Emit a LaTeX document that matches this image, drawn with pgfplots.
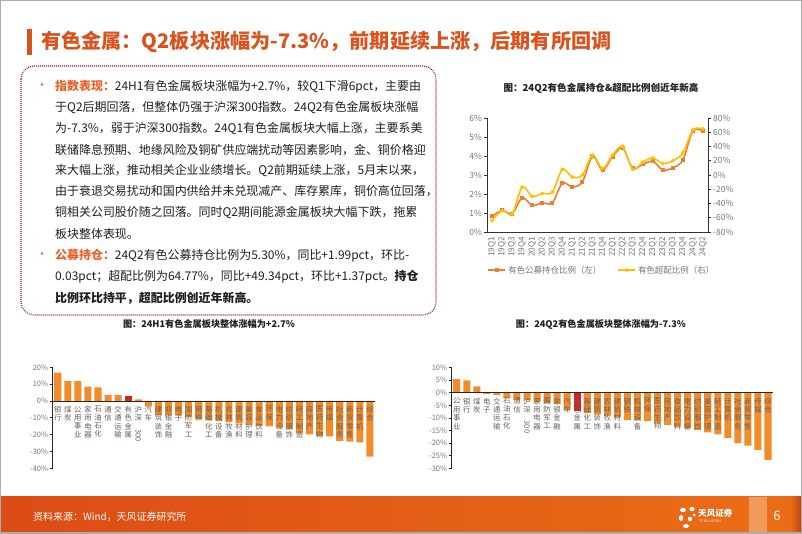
\documentclass[border=0pt]{standalone}
\usepackage{pgfplots}
\pgfplotsset{compat=1.18}
\usepackage{fontspec}
\setmainfont{Noto Sans CJK SC}
\usepackage{graphicx}
\definecolor{ttl}{RGB}{217,83,30}
\definecolor{hl}{RGB}{232,98,40}
\definecolor{barc}{RGB}{242,140,42}
\definecolor{barred}{RGB}{222,30,30}
\definecolor{lorange}{RGB}{237,125,49}
\definecolor{lyellow}{RGB}{255,192,0}
\definecolor{tickg}{RGB}{118,118,118}
\definecolor{lblg}{RGB}{105,95,90}
\definecolor{boxc}{RGB}{125,25,55}
\definecolor{foot1}{RGB}{220,76,22}
\definecolor{foot2}{RGB}{234,110,22}
\definecolor{txt}{RGB}{30,30,30}
\pgfplotsset{
 barstyle/.style={
  scale only axis, anchor=south west, axis on top=true,
  axis x line=middle, axis y line=left,
  axis line style={-, black!85, line width=0.6bp},
  xmin=-0.5, xmax=31.5, xtick={0,...,31},
  xtick style={draw=none},
  ytick style={black!85, line width=0.6bp},
  tick align=outside, major tick length=3bp,
  yticklabel={\pgfmathprintnumber{\tick}\%},
  yticklabel style={font=\fontsize{7.5}{8}\selectfont, text=tickg, inner sep=1.5bp},
  xticklabel style={font=\fontsize{7.4}{8.4}\selectfont, text=lblg, align=center, anchor=north, inner sep=0pt, yshift=-2bp},
  /pgf/number format/assume math mode=true,
  clip=false,
 },
 barplot/.style={ybar, bar width=0.7, fill=barc, draw=none},
}
\begin{document}
\begin{tikzpicture}[x=1bp,y=1bp]
\useasboundingbox (0,0) rectangle (802,534);
\fill[white] (0,0) rectangle (802,534);
% title
\fill[ttl] (27,505) rectangle (32,479);
\node[anchor=west, text=ttl, font=\fontsize{20.2}{24}\selectfont\bfseries, inner sep=0] at (41,492) {有色金属：Q2板块涨幅为-7.3\%，前期延续上涨，后期有所回调};
% text box
\draw[boxc, line width=1.1bp, dash pattern=on 0.9bp off 1.1bp, rounded corners=13bp] (21,468) rectangle (436,219);
\begin{scope}[every node/.style={anchor=west, inner sep=0, font=\fontsize{12}{14}\selectfont, text=txt}]
\node[text=hl] at (36,447) {•};
\node at (55,447) {{\color{hl}\bfseries 指数表现：}24H1有色金属板块涨幅为+2.7\%，较Q1下滑6pct，主要由};
\node at (55,426) {于Q2后期回落，但整体仍强于沪深300指数。24Q2有色金属板块涨幅};
\node at (55,405) {为-7.3\%，弱于沪深300指数。24Q1有色金属板块大幅上涨，主要系美};
\node at (55,384) {联储降息预期、地缘风险及铜矿供应端扰动等因素影响，金、铜价格迎};
\node at (55,363) {来大幅上涨，推动相关企业业绩增长。Q2前期延续上涨，5月末以来，};
\node at (55,343) {由于衰退交易扰动和国内供给并未兑现减产、库存累库，铜价高位回落，};
\node at (55,321) {铜相关公司股价随之回落。同时Q2期间能源金属板块大幅下跌，拖累};
\node at (55,300) {板块整体表现。};
\node[text=hl] at (36,278) {•};
\node at (55,278) {{\color{hl}\bfseries 公募持仓：}24Q2有色公募持仓比例为5.30\%，同比+1.99pct，环比-};
\node at (55,257) {0.03pct；超配比例为64.77\%，同比+49.34pct，环比+1.37pct。{\bfseries 持仓}};
\node at (55,236) {\bfseries 比例环比持平，超配比例创近年新高。};
\end{scope}
% chart titles
\node[font=\fontsize{9.6}{11}\selectfont\bfseries, text=txt] at (601,446) {图：24Q2有色金属持仓\&超配比例创近年新高};
\node[font=\fontsize{9.2}{11}\selectfont\bfseries, text=txt] at (209,210) {图：24H1有色金属板块整体涨幅为+2.7\%};
\node[font=\fontsize{9.2}{11}\selectfont\bfseries, text=txt] at (601,210) {图：24Q2有色金属板块整体涨幅为-7.3\%};
% line chart left axis
\begin{axis}[scale only axis, anchor=south west, at={(487bp,302bp)}, width=221bp, height=114bp,
  xmin=-0.5, xmax=21.5, ymin=0, ymax=6, ytick={0,...,6},
  axis x line*=bottom, axis y line*=left,
  axis line style={-, black!80, line width=0.6bp},
  tick align=outside, major tick length=3bp,
  xtick={0,...,21}, xtick style={draw=none},
  xticklabels={19Q1,19Q2,19Q3,19Q4,20Q1,20Q2,20Q3,20Q4,21Q1,21Q2,21Q3,21Q4,22Q1,22Q2,22Q3,22Q4,23Q1,23Q2,23Q3,23Q4,24Q1,24Q2},
  xticklabel style={rotate=90, anchor=east, font=\fontsize{8.3}{9}\selectfont, text=tickg, inner sep=1.5bp},
  yticklabel={\pgfmathprintnumber{\tick}\%},
  yticklabel style={font=\fontsize{8.5}{9}\selectfont, text=tickg, inner sep=2bp},
  ytick style={black!80, line width=0.6bp},
  /pgf/number format/assume math mode=true, clip=false]
\addplot[lorange, line width=1.6bp, smooth, mark=square*, mark size=1.2bp, mark options={fill=lorange}] coordinates {
(0,0.82) (1,1.14) (2,0.96) (3,1.80) (4,1.40) (5,1.53) (6,1.53) (7,2.57) (8,2.37) (9,2.63) (10,3.98)
(11,3.25) (12,3.97) (13,4.42) (14,3.35) (15,3.56) (16,3.72) (17,3.26) (18,3.38) (19,3.79) (20,5.33) (21,5.30)};
\end{axis}
% line chart right axis
\begin{axis}[scale only axis, anchor=south west, at={(487bp,302bp)}, width=221bp, height=114bp,
  xmin=-0.5, xmax=21.5, ymin=-80, ymax=80, ytick={-80,-60,...,80},
  axis x line=none, axis y line*=right,
  axis line style={-, black!80, line width=0.6bp},
  tick align=outside, major tick length=3bp,
  yticklabel={\pgfmathprintnumber{\tick}\%},
  yticklabel style={font=\fontsize{8.5}{9}\selectfont, text=tickg, inner sep=2bp},
  ytick style={black!80, line width=0.6bp},
  /pgf/number format/assume math mode=true, clip=false,
  legend style={at={(0.52,-0.335)}, anchor=center, draw=none, fill=none, legend columns=2,
    font=\fontsize{8.5}{9}\selectfont, text=tickg,
    /tikz/every even column/.append style={column sep=14bp}},
  legend image post style={line width=1.6bp}]
\addlegendimage{lorange, mark=square*, mark size=1.2bp, mark options={fill=lorange}}
\addlegendentry{有色公募持仓比例（左）}
\addplot[lyellow, line width=1.6bp, smooth, mark=*, mark size=1bp] coordinates {
(0,-64) (1,-50) (2,-55) (3,-17) (4,-30) (5,-26) (6,-24) (7,8) (8,-3) (9,0) (10,28)
(11,9) (12,28) (13,40) (14,8) (15,18) (16,24) (17,16) (18,20) (19,31) (20,63.4) (21,64.77)};
\addlegendentry{有色超配比例（右）}
\end{axis}
% left bar chart
\begin{axis}[barstyle, at={(52.7bp,65.7bp)}, width=322.3bp, height=101bp,
  ymin=-40, ymax=20, ytick={-40,-30,...,20},
  xticklabels={{银\\行},{煤\\炭},{公\\用\\事\\业},{家\\用\\电\\器},{石\\油\\石\\化},{通\\信},{交\\通\\运\\输},{有\\色\\金\\属},{沪\\深\\\rotatebox{-90}{300}},{汽\\车},{建\\筑\\装\\饰},{非\\银\\金\\融},{电\\子},{国\\防\\军\\工},{钢\\铁},{基\\础\\化\\工},{机\\械\\设\\备},{农\\林\\牧\\渔},{建\\筑\\材\\料},{美\\容\\护\\理},{食\\品\\饮\\料},{环\\保},{电\\力\\设\\备},{纺\\织\\服\\饰},{轻\\工\\制\\造},{房\\地\\产},{医\\药\\生\\物},{传\\媒},{社\\会\\服\\务},{商\\贸\\零\\售},{计\\算\\机},{综\\合}}]
\addplot[barplot] coordinates {(0,16.9) (1,11.9) (2,11.8) (3,8.5) (4,8.0) (5,3.6) (6,3.4) (8,0.9) (9,-3.0) (10,-8.3) (11,-8.5) (12,-8.7) (13,-9.5) (14,-10.8) (15,-11.5) (16,-12.0) (17,-12.5) (18,-13.3) (19,-14.0) (20,-15.0) (21,-15.1) (22,-15.8) (23,-16.8) (24,-19.3) (25,-19.9) (26,-21.0) (27,-21.1) (28,-23.7) (29,-24.1) (30,-24.6) (31,-33.1)};
\addplot[barplot, fill=barred] coordinates {(7,2.7)};
\end{axis}
% right bar chart
\begin{axis}[barstyle, at={(451.7bp,65.7bp)}, width=321.3bp, height=100.8bp,
  ymin=-30, ymax=10, ytick={-30,-25,...,10},
  xticklabels={{公\\用\\事\\业},{银\\行},{煤\\炭},{电\\子},{交\\通\\运\\输},{石\\油\\石\\化},{通\\信},{沪\\深\\\rotatebox{-90}{300}},{家\\用\\电\\器},{国\\防\\军\\工},{非\\银\\金\\融},{汽\\车},{有\\色\\金\\属},{基\\础\\化\\工},{建\\筑\\装\\饰},{农\\林\\牧\\渔},{建\\筑\\材\\料},{钢\\铁},{机\\械\\设\\备},{环\\保},{医\\药\\生\\物},{房\\地\\产},{食\\品\\饮\\料},{电\\力\\设\\备},{纺\\织\\服\\饰},{美\\容\\护\\理},{轻\\工\\制\\造},{计\\算\\机},{社\\会\\服\\务},{商\\贸\\零\\售},{传\\媒},{综\\合}}]
\addplot[barplot] coordinates {(0,5.4) (1,4.9) (2,2.5) (3,-0.5) (4,-0.9) (5,-2.3) (6,-2.9) (7,-3.0) (8,-3.7) (9,-4.2) (10,-4.5) (11,-6.8) (13,-8.0) (14,-8.6) (15,-9.0) (16,-9.8) (17,-10.9) (18,-11.0) (19,-11.2) (20,-12.0) (21,-12.8) (22,-13.5) (23,-14.2) (24,-14.8) (25,-15.7) (26,-16.5) (27,-17.9) (28,-20.0) (29,-21.0) (30,-22.7) (31,-26.7)};
\addplot[barplot, fill=barred] coordinates {(12,-7.3)};
\end{axis}
% footer
\shade[left color=foot1, right color=foot2] (0,0) rectangle (802,37);
\fill[foot2!70!white] (749,0) rectangle (767,37);
\shade[left color=foot2, right color=foot1!85!black] (790,0) rectangle (802,37);
\node[anchor=west, text=white, font=\fontsize{10}{12}\selectfont, inner sep=0] at (33,17.5) {资料来源：Wind，天风证券研究所};
\begin{scope}[white]
\fill (683,24) ellipse (3bp and 2.2bp);
\fill (692,25) ellipse (2.6bp and 2.2bp);
\fill (681,16) ellipse (2.2bp and 3bp);
\fill (690,15) circle (2.2bp);
\fill (686,8) ellipse (3bp and 2bp);
\fill (694,19) circle (1.5bp);
\end{scope}
\node[anchor=west, text=white, font=\fontsize{8.6}{10}\selectfont\bfseries, inner sep=0] at (698,21) {天风证券};
\node[anchor=west, text=white, font=\fontsize{3.2}{4}\selectfont, inner sep=0] at (699,12.5) {TF SECURITIES};
\node[text=white, font=\fontsize{13}{15}\selectfont] at (777,18) {6};
\draw[gray!65, line width=1.5bp] (0.75,0.75) rectangle (801.25,533.25);
\end{tikzpicture}
\end{document}
